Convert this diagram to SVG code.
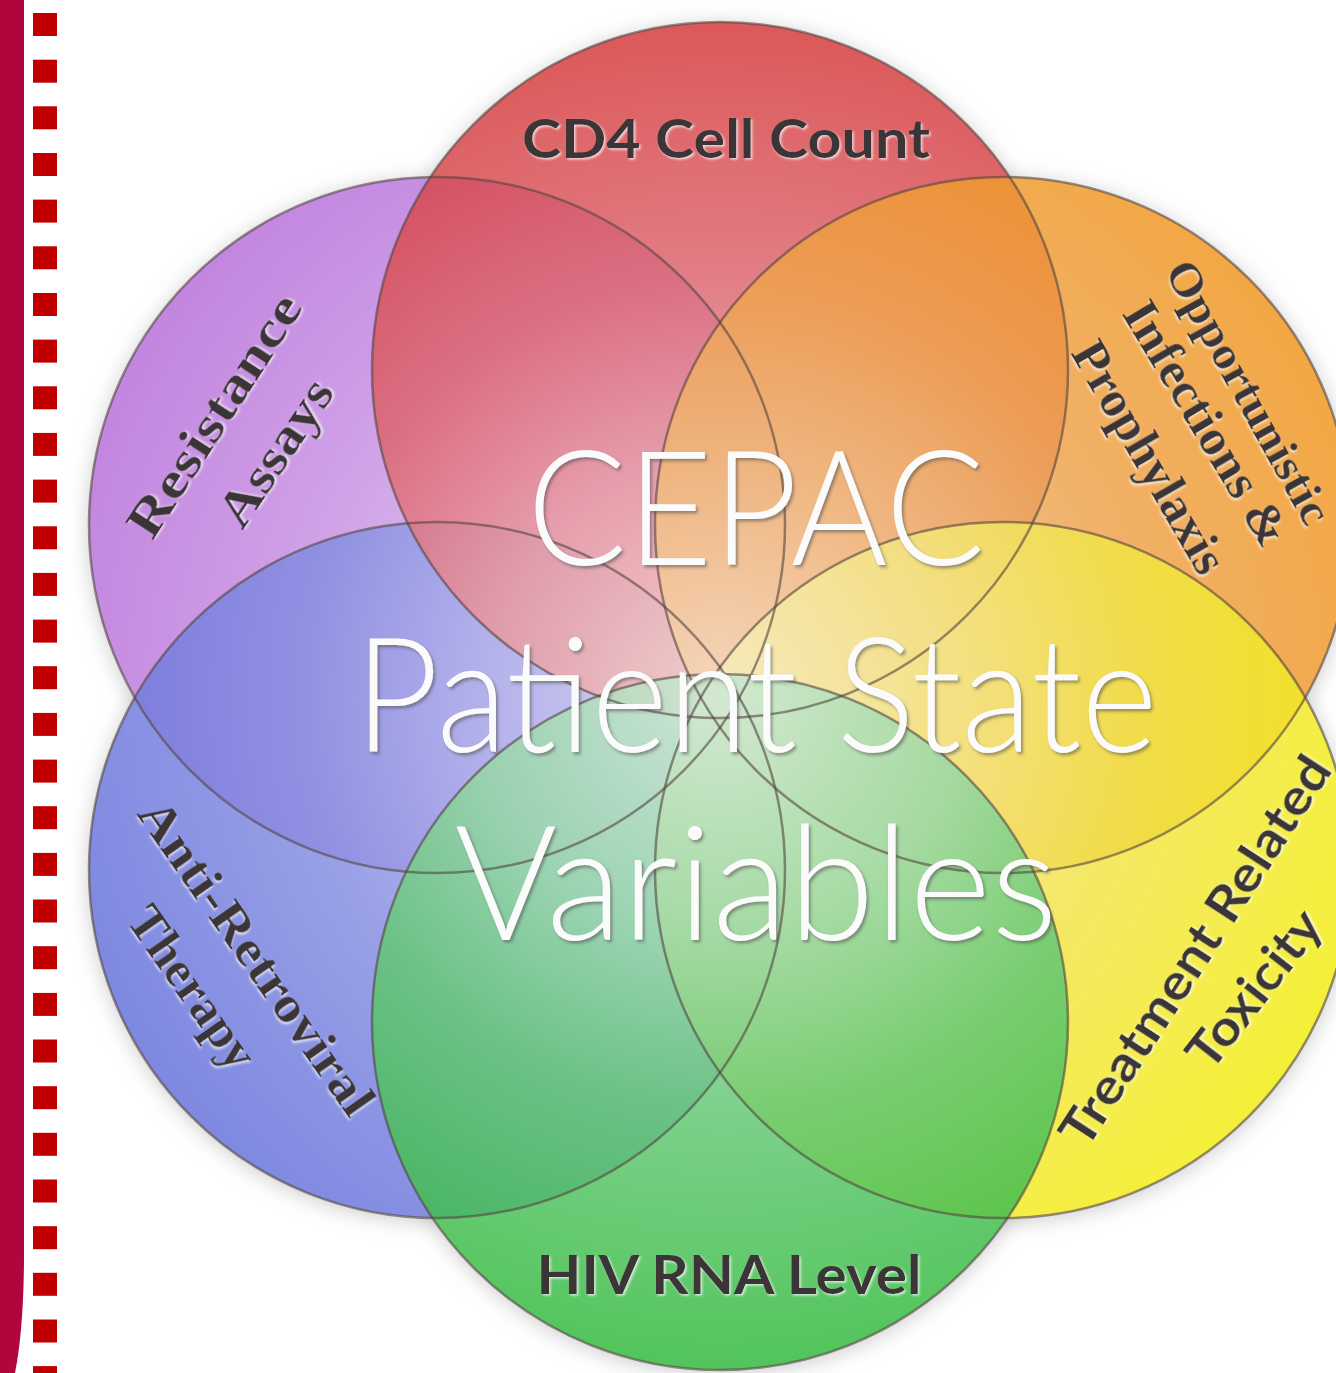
<svg xmlns="http://www.w3.org/2000/svg" width="1336" height="1373" viewBox="0 0 1336 1373">
<style>
.sq{fill:#c00000}
.circ{fill-opacity:0.84}
.outline{fill:none;stroke:#54443f;stroke-opacity:0.6;stroke-width:2.5}
.lbl{font-family:"Liberation Serif","DejaVu Serif",serif;font-weight:bold;font-size:50px;fill:#3b3638;text-anchor:middle;dominant-baseline:central;filter:url(#emboss)}
.lbls{font-family:Lato,"Open Sans","Liberation Sans",sans-serif;font-weight:bold;font-size:54px;fill:#3b3638;text-anchor:middle;dominant-baseline:central;filter:url(#emboss)}
.big{font-family:Lato,"Open Sans","Liberation Sans",sans-serif;font-weight:300;font-size:160px;fill:#fbfbfb;text-anchor:middle;filter:url(#bigsh)}
</style>
<defs>
<filter id="emboss" x="-10%" y="-30%" width="120%" height="160%">
<feDropShadow dx="1.5" dy="1.5" stdDeviation="0.8" flood-color="#ffffff" flood-opacity="0.75"/>
</filter>
<filter id="bigsh" x="-10%" y="-20%" width="120%" height="140%">
<feDropShadow dx="2" dy="2.5" stdDeviation="1.5" flood-color="#505050" flood-opacity="0.55"/>
</filter>
<filter id="soft" x="-20%" y="-20%" width="140%" height="140%">
<feGaussianBlur stdDeviation="10"/>
</filter>
<radialGradient id="gRed" gradientUnits="userSpaceOnUse" cx="720" cy="697" r="690">
<stop offset="0" stop-color="#f4cfc6"/><stop offset="0.35" stop-color="#e8969e"/><stop offset="0.6" stop-color="#dd6670"/><stop offset="1" stop-color="#d43636"/>
</radialGradient>
<radialGradient id="gOrange" gradientUnits="userSpaceOnUse" cx="720" cy="697" r="690">
<stop offset="0" stop-color="#f6d8b8"/><stop offset="0.35" stop-color="#f0b876"/><stop offset="0.6" stop-color="#eea24c"/><stop offset="1" stop-color="#f0961e"/>
</radialGradient>
<radialGradient id="gYellow" gradientUnits="userSpaceOnUse" cx="720" cy="697" r="690">
<stop offset="0" stop-color="#f6eec0"/><stop offset="0.35" stop-color="#f4e680"/><stop offset="0.6" stop-color="#f2e446"/><stop offset="1" stop-color="#f2ee10"/>
</radialGradient>
<radialGradient id="gGreen" gradientUnits="userSpaceOnUse" cx="720" cy="697" r="690">
<stop offset="0" stop-color="#cce8d4"/><stop offset="0.35" stop-color="#96d8a6"/><stop offset="0.6" stop-color="#62c874"/><stop offset="1" stop-color="#2eb838"/>
</radialGradient>
<radialGradient id="gBlue" gradientUnits="userSpaceOnUse" cx="720" cy="697" r="690">
<stop offset="0" stop-color="#d4d4f2"/><stop offset="0.35" stop-color="#aaaeea"/><stop offset="0.6" stop-color="#858ee2"/><stop offset="1" stop-color="#6470da"/>
</radialGradient>
<radialGradient id="gPurple" gradientUnits="userSpaceOnUse" cx="720" cy="697" r="690">
<stop offset="0" stop-color="#e8d4f2"/><stop offset="0.35" stop-color="#d8b2ea"/><stop offset="0.6" stop-color="#c892e2"/><stop offset="1" stop-color="#b66cda"/>
</radialGradient>
</defs>
<rect width="1336" height="1373" fill="#ffffff"/>
<g id="side-bar">
<path d="M0 0 H24 V1260 Q23.5 1330 15 1373 H0 Z" fill="#b0063c"/>
<rect class="sq" x="33" y="13" width="24" height="23"/>
<rect class="sq" x="33" y="59.7" width="24" height="23"/>
<rect class="sq" x="33" y="106.3" width="24" height="23"/>
<rect class="sq" x="33" y="153" width="24" height="23"/>
<rect class="sq" x="33" y="199.6" width="24" height="23"/>
<rect class="sq" x="33" y="246.3" width="24" height="23"/>
<rect class="sq" x="33" y="293" width="24" height="23"/>
<rect class="sq" x="33" y="339.6" width="24" height="23"/>
<rect class="sq" x="33" y="386.3" width="24" height="23"/>
<rect class="sq" x="33" y="432.9" width="24" height="23"/>
<rect class="sq" x="33" y="479.6" width="24" height="23"/>
<rect class="sq" x="33" y="526.3" width="24" height="23"/>
<rect class="sq" x="33" y="572.9" width="24" height="23"/>
<rect class="sq" x="33" y="619.6" width="24" height="23"/>
<rect class="sq" x="33" y="666.2" width="24" height="23"/>
<rect class="sq" x="33" y="712.9" width="24" height="23"/>
<rect class="sq" x="33" y="759.6" width="24" height="23"/>
<rect class="sq" x="33" y="806.2" width="24" height="23"/>
<rect class="sq" x="33" y="852.9" width="24" height="23"/>
<rect class="sq" x="33" y="899.5" width="24" height="23"/>
<rect class="sq" x="33" y="946.2" width="24" height="23"/>
<rect class="sq" x="33" y="992.9" width="24" height="23"/>
<rect class="sq" x="33" y="1039.5" width="24" height="23"/>
<rect class="sq" x="33" y="1086.2" width="24" height="23"/>
<rect class="sq" x="33" y="1132.8" width="24" height="23"/>
<rect class="sq" x="33" y="1179.5" width="24" height="23"/>
<rect class="sq" x="33" y="1226.2" width="24" height="23"/>
<rect class="sq" x="33" y="1272.8" width="24" height="23"/>
<rect class="sq" x="33" y="1319.5" width="24" height="23"/>
<rect class="sq" x="33" y="1366.1" width="24" height="23"/>
</g>
<g id="shadow" filter="url(#soft)" fill="#9a9a9a" fill-opacity="0.45">
<circle cx="720" cy="373" r="350"/><circle cx="1003" cy="528" r="350"/><circle cx="1003" cy="873" r="350"/>
<circle cx="720" cy="1025" r="350"/><circle cx="437" cy="873" r="350"/><circle cx="437" cy="528" r="350"/>
</g>
<g id="base" fill="#ffffff">
<circle cx="720" cy="370" r="348"/><circle cx="1003" cy="525" r="348"/><circle cx="1003" cy="870" r="348"/>
<circle cx="720" cy="1022" r="348"/><circle cx="437" cy="870" r="348"/><circle cx="437" cy="525" r="348"/>
</g>
<g id="resistance-assays">
<circle class="circ" cx="437" cy="525" r="348" fill="url(#gPurple)"/>
</g>
<g id="anti-retroviral-therapy">
<circle class="circ" cx="437" cy="870" r="348" fill="url(#gBlue)"/>
</g>
<g id="cd4-cell-count">
<circle class="circ" cx="720" cy="370" r="348" fill="url(#gRed)"/>
</g>
<g id="opportunistic-infections">
<circle class="circ" cx="1003" cy="525" r="348" fill="url(#gOrange)"/>
</g>
<g id="treatment-toxicity">
<circle class="circ" cx="1003" cy="870" r="348" fill="url(#gYellow)"/>
</g>
<g id="hiv-rna-level">
<circle class="circ" cx="720" cy="1022" r="348" fill="url(#gGreen)"/>
</g>
<g id="outlines">
<circle class="outline" cx="437" cy="525" r="348"/>
<circle class="outline" cx="437" cy="870" r="348"/>
<circle class="outline" cx="720" cy="370" r="348"/>
<circle class="outline" cx="1003" cy="525" r="348"/>
<circle class="outline" cx="1003" cy="870" r="348"/>
<circle class="outline" cx="720" cy="1022" r="348"/>
</g>
<g id="labels">
<text class="lbls" x="726" y="137" textLength="408" lengthAdjust="spacingAndGlyphs">CD4 Cell Count</text>
<text class="lbls" x="729" y="1273" textLength="385" lengthAdjust="spacingAndGlyphs">HIV RNA Level</text>
<text class="lbl" transform="translate(214 415) rotate(-57)" textLength="279" lengthAdjust="spacingAndGlyphs">Resistance</text>
<text class="lbl" transform="translate(275 452) rotate(-56)" textLength="167" lengthAdjust="spacingAndGlyphs">Assays</text>
<text class="lbl" style="font-size:47px" transform="translate(1249 392) rotate(61)" textLength="294" lengthAdjust="spacingAndGlyphs">Opportunistic</text>
<text class="lbl" transform="translate(1207 423) rotate(59)" textLength="276" lengthAdjust="spacingAndGlyphs">Infections &amp;</text>
<text class="lbl" transform="translate(1150 457) rotate(60)" textLength="260" lengthAdjust="spacingAndGlyphs">Prophylaxis</text>
<text class="lbl" transform="translate(257 957) rotate(55)" textLength="373" lengthAdjust="spacingAndGlyphs">Anti-Retroviral</text>
<text class="lbl" transform="translate(193 987) rotate(55)" textLength="187" lengthAdjust="spacingAndGlyphs">Therapy</text>
<text class="lbls" style="font-size:50px" transform="translate(1194 950) rotate(-57)" textLength="454" lengthAdjust="spacingAndGlyphs">Treatment Related</text>
<text class="lbls" style="font-size:50px" transform="translate(1253 988) rotate(-52)" textLength="186" lengthAdjust="spacingAndGlyphs">Toxicity</text>
</g>
<g id="title">
<text class="big" x="756" y="565" textLength="458" lengthAdjust="spacingAndGlyphs">CEPAC</text>
<text class="big" x="756" y="752" textLength="803" lengthAdjust="spacingAndGlyphs">Patient State</text>
<text class="big" x="756" y="940" textLength="603" lengthAdjust="spacingAndGlyphs">Variables</text>
</g>
</svg>
